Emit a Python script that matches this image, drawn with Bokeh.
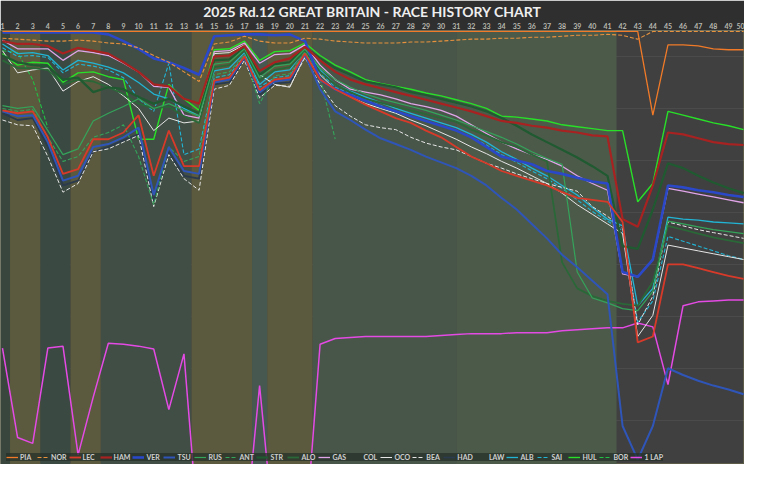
from bokeh.plotting import figure
from bokeh.models import Range1d, FixedTicker, BoxAnnotation, Legend, LegendItem
from bokeh.embed import file_html
from bokeh.resources import INLINE

# ---------------- data (gap to leader, chart units) ----------------
laps = list(range(1, 51))
lap_ticks = list(range(1, 51))

PIA = [0, 0, 0, 0, 0, 0, 0, 0, 0, 0,
       0, 0, 0, 0, 0, 0, 0, 0, 0, 0,
       0, 0, 0, 0, 0, 0, 0, 0, 0, 0,
       0, 0, 0, 0, 0, 0, 0, 0, 0, 0,
       0, 0, 0, 87, 14, 14, 15, 18, 19, 19]
NOR = [7, 8, 9, 10, 10, 9, 10, 12, 13, 17,
       25, 32, 42, 52, 13, 11, 5, 10, 12, 12,
       7, 8, 10, 11, 12, 12, 12, 11, 11, 10,
       9, 8, 8, 7, 7, 6, 6, 5, 4, 4,
       3, 4, 8, 0, 0, 0, 0, 0, 0, 0]
LEC = [82, 85, 83, 110, 148, 143, 112, 112, 105, 87,
       150, 103, 140, 140, 51, 48, 26, 61, 50, 48,
       23, 50, 60, 68, 76, 83, 90, 95, 103, 110,
       120, 130, 137, 145, 150, 155, 160, 167, 173, 175,
       177, 198, 323, 317, 242, 242, 246, 250, 254, 257]
HAM = [10, 13, 13, 15, 23, 17, 20, 23, 32, 42,
       55, 57, 70, 75, 26, 25, 15, 41, 32, 28,
       16, 30, 42, 50, 55, 59, 63, 67, 71, 75,
       79, 83, 88, 93, 95, 98, 100, 103, 105, 108,
       109, 195, 203, 160, 105, 107, 111, 115, 117, 118]
VER = [1, 1, 1, 1, 1, 1, 1, 3, 10, 18,
       28, 32, 38, 45, 5, 4, 3, 3, 4, 3,
       10, 50, 60, 66, 72, 78, 83, 88, 93, 98,
       103, 110, 120, 130, 134, 138, 145, 148, 152, 156,
       158, 250, 255, 237, 160, 162, 165, 167, 170, 172]
TSU = [83, 88, 87, 115, 155, 150, 120, 117, 110, 100,
       170, 120, 145, 148, 53, 50, 27, 63, 52, 50,
       24, 60, 83, 92, 102, 111, 117, 123, 130, 136,
       142, 150, 160, 173, 185, 200, 215, 232, 245, 259,
       273, 410, 445, 410, 350, 357, 363, 368, 372, 377]
RUS = [77, 80, 78, 103, 128, 122, 93, 85, 78, 70,
       80, 75, 82, 88, 34, 32, 18, 48, 36, 34,
       18, 38, 50, 58, 65, 70, 74, 78, 82, 87,
       92, 98, 104, 110, 117, 125, 132, 138, 250, 277,
       282, 288, 290, 270, 197, 200, 203, 206, 208, 210]
ANT = [80, 83, 81, 110, 135, 130, 110, 105, 97, 130,
       180, 120, 135, 130, 45, 42, 24, 75, 46, 44,
       21, 48, 112]
STR = [25, 32, 35, 36, 50, 48, 63, 58, 60, 68,
       75, 70, 78, 85, 30, 29, 17, 45, 34, 32,
       17, 28, 38, 45, 52, 55, 58, 63, 66, 70,
       74, 78, 83, 90, 98, 107, 115, 123, 131, 140,
       150, 223, 226, 185, 137, 142, 150, 157, 163, 168]
ALO = [30, 38, 38, 40, 55, 50, 52, 58, 65, 75,
       80, 78, 88, 95, 37, 35, 20, 51, 40, 37,
       20, 42, 55, 63, 70, 74, 78, 82, 86, 90,
       94, 102, 108, 115, 120, 128, 135, 240, 267, 275,
       280, 283, 285, 260, 202, 206, 210, 214, 217, 220]
GAS = [9, 18, 18, 18, 30, 20, 22, 25, 33, 42,
       57, 58, 87, 90, 21, 20, 12, 33, 24, 23,
       14, 35, 50, 60, 63, 66, 70, 75, 78, 82,
       88, 97, 106, 115, 122, 128, 133, 140, 150, 158,
       165, 252, 255, 237, 163, 166, 169, 172, 175, 178]
COL = []
OCO = [20, 43, 40, 38, 62, 52, 47, 55, 67, 80,
       103, 90, 95, 93, 23, 22, 14, 45, 55, 58,
       25, 45, 60, 68, 75, 80, 85, 92, 98, 105,
       112, 120, 127, 135, 142, 150, 158, 168, 180, 190,
       200, 210, 317, 295, 222, 225, 228, 231, 234, 237]
BEA = [92, 97, 98, 130, 167, 158, 125, 122, 115, 108,
       182, 128, 153, 165, 60, 56, 30, 69, 56, 57,
       27, 55, 77, 88, 97, 100, 102, 110, 116, 120,
       123, 130, 137, 142, 148, 153, 158, 162, 166, 182,
       192, 205, 305, 275, 198, 202, 206, 209, 212, 215]
HAD = [85, 92, 90, 120, 160, 155, 125, 120, 113, 107,
       177, 125, 150, 153, 55, 53, 28, 66, 54, 53,
       25]
LAW = []
ALB = [13, 23, 22, 25, 40, 30, 33, 37, 43, 53,
       65, 70, 80, 88, 41, 38, 22, 55, 42, 40,
       19, 40, 55, 62, 68, 74, 80, 85, 90, 95,
       100, 107, 115, 125, 133, 142, 150, 160, 170, 183,
       195, 202, 285, 267, 193, 195, 196, 198, 199, 200]
SAI = [17, 26, 25, 27, 43, 34, 36, 40, 48, 70,
       83, 33, 128, 122, 48, 45, 25, 58, 48, 46,
       22, 43, 58, 65, 71, 77, 83, 88, 93, 98,
       103, 110, 118, 128, 136, 145, 153, 163, 175, 187,
       197, 207, 302, 280, 213, 218, 223, 228, 233, 237]
HUL = [23, 35, 32, 33, 53, 43, 42, 47, 50, 112,
       112, 55, 70, 82, 19, 18, 10, 30, 21, 20,
       12, 25, 35, 42, 50, 54, 57, 60, 64, 67,
       71, 75, 80, 88, 89, 91, 93, 97, 99, 101,
       103, 103, 177, 158, 83, 87, 91, 95, 98, 102]
BOR = [20, 22, 50, 100]
ONE_LAP = [329, 422, 428, 329, 327, 440, 380, 324, 325, 327,
           330, 393, 335, 530, 570, 570, 530, 368, 530, 530,
           530, 325, 319, 318, 317, 317, 317, 317, 317, 316,
           315, 314, 314, 314, 313, 313, 313, 311, 310, 309,
           308, 308, 303, 307, 367, 285, 281, 280, 279, 279]

# track status periods (lap ranges)
sc_periods = [(1.5, 3.5), (5.5, 7.5), (13.5, 17.5), (18.5, 21.5)]
vsc_periods = [(17.5, 18.5)]
wet_end = 41.6

series = [
    ("PIA", PIA, "#f07a28", 1.3, "solid"),
    ("NOR", NOR, "#e8923e", 1.1, "4 2"),
    ("LEC", LEC, "#d83a2a", 1.8, "solid"),
    ("HAM", HAM, "#a82222", 2.2, "solid"),
    ("VER", VER, "#2a48c8", 2.6, "solid"),
    ("TSU", TSU, "#2f55b8", 2.0, "solid"),
    ("RUS", RUS, "#34a45a", 1.2, "solid"),
    ("ANT", ANT, "#34a45a", 1.1, "4 2"),
    ("STR", STR, "#1f5a30", 2.2, "solid"),
    ("ALO", ALO, "#2a6838", 1.8, "solid"),
    ("GAS", GAS, "#e0a4e8", 1.3, "solid"),
    ("COL", COL, "#e0e0e0", 1.0, "4 2"),
    ("OCO", OCO, "#e6e6e6", 1.0, "solid"),
    ("BEA", BEA, "#e6e6e6", 1.0, "4 2"),
    ("HAD", HAD, "#2b3a4c", 1.8, "solid"),
    ("LAW", LAW, "#33425a", 1.3, "solid"),
    ("ALB", ALB, "#22b4d4", 1.3, "solid"),
    ("SAI", SAI, "#22b4d4", 1.1, "4 2"),
    ("HUL", HUL, "#28e028", 1.4, "solid"),
    ("BOR", BOR, "#22c044", 1.1, "4 2"),
]

p = figure(width=744, height=464, output_backend="svg", toolbar_location=None,
           x_axis_location="above", y_axis_location=None,
           x_range=Range1d(0.87, 50.06), y_range=Range1d(450, -1),
           min_border_left=0, min_border_right=0, min_border_bottom=0, min_border_top=0)

p.background_fill_color = "#404040"
p.border_fill_color = "#2f2f2f"
p.outline_line_color = "#77774f"
p.outline_line_alpha = 0.5

p.title.text = "2025 Rd.12 GREAT BRITAIN - RACE HISTORY CHART"
p.title.align = "center"
p.title.text_color = "#eeeeee"
p.title.text_font = "Lato"
p.title.text_font_style = "bold"
p.title.text_font_size = "14px"
p.title.standoff = 0
p.title.offset = 0

ax = p.xaxis[0]
ax.ticker = FixedTicker(ticks=lap_ticks)
ax.major_label_text_font_size = "7px"
ax.major_label_text_color = "#b8b8b0"
ax.major_label_text_font = "Lato"
ax.major_label_text_font_style = "bold"
ax.axis_line_color = None
ax.major_tick_line_color = None
ax.minor_tick_line_color = None
ax.major_tick_out = 0
ax.major_tick_in = 0
ax.major_label_standoff = 2

p.xgrid.grid_line_color = None
p.ygrid.ticker = FixedTicker(ticks=[26, 80, 134, 188, 242, 296, 350, 404])
p.ygrid.grid_line_color = "#ffffff"
p.ygrid.grid_line_alpha = 0.06

# background: wet-race tint, SC / VSC periods
bands = [
    (0.87, 1.5, "#38463d"),
    (3.5, 5.5, "#3a4942"),
    (7.5, 13.5, "#404e45"),
    (21.5, 31.0, "#485649"),
    (31.0, wet_end, "#4c5a4a"),
]
for l, r, c in bands:
    p.add_layout(BoxAnnotation(left=l, right=r, fill_color=c, fill_alpha=1.0,
                               line_color=None, level="underlay"))
for l, r in sc_periods:
    p.add_layout(BoxAnnotation(left=l, right=r, fill_color="#5b5a3e", fill_alpha=1.0,
                               line_color=None, level="underlay"))
for l, r in vsc_periods:
    p.add_layout(BoxAnnotation(left=l, right=r, fill_color="#465850", fill_alpha=1.0,
                               line_color=None, level="underlay"))

renderers = {}
r1 = p.line(laps, ONE_LAP, line_color="#e44ae4", line_width=1.5)
renderers["1 LAP"] = r1
for name, vals, color, w, dash in reversed(series):
    r = p.line(laps[:len(vals)], vals, line_color=color, line_width=w, line_dash=dash)
    renderers[name] = r

order = [s[0] for s in series] + ["1 LAP"]
legend = Legend(items=[LegendItem(label=n, renderers=[renderers[n]]) for n in order],
                orientation="horizontal", location=(6, 3))
legend.background_fill_color = "#25302a"
legend.background_fill_alpha = 0.75
legend.border_line_color = None
legend.label_text_font_size = "7px"
legend.label_text_color = "#cfcfcf"
legend.label_text_font = "Lato"
legend.label_text_font_style = "bold"
legend.glyph_width = 12
legend.glyph_height = 8
legend.label_height = 8
legend.label_width = 15
legend.label_standoff = 2
legend.spacing = 2
legend.padding = 3
legend.margin = 0
p.add_layout(legend, "center")

open("out.html", "w").write(file_html(p, INLINE))
